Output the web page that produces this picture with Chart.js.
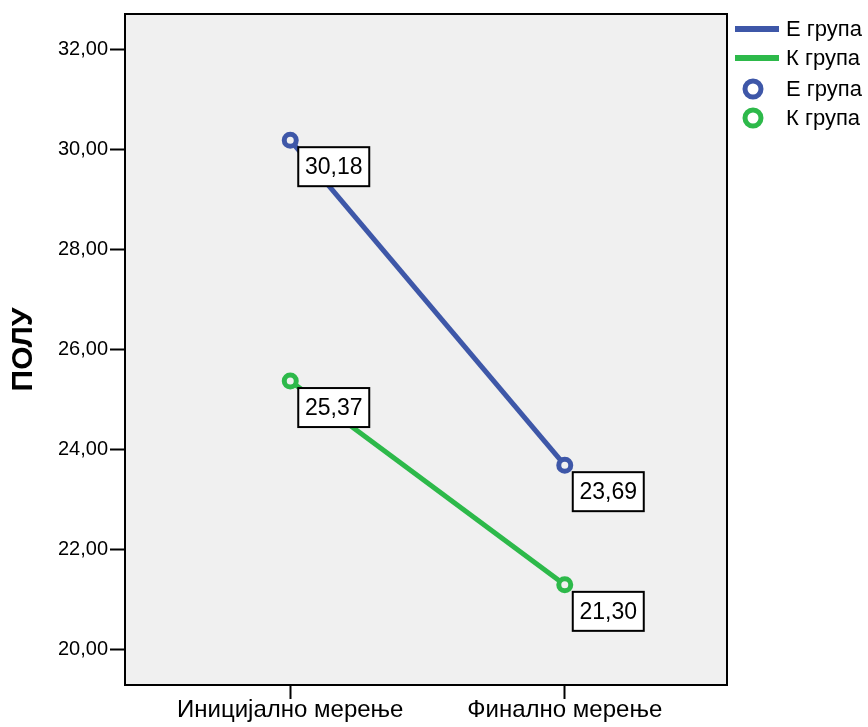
<!DOCTYPE html>
<html lang="sr">
<head>
<meta charset="utf-8">
<title>ПОЛУ</title>
<script src="https://cdn.jsdelivr.net/npm/chart.js"></script>
<style>
  html, body { margin: 0; padding: 0; background: #fff; }
  #wrap { width: 868px; height: 727px; }
</style>
</head>
<body>
<div id="wrap"><canvas id="myChart" width="868" height="727"></canvas></div>
<script>
  // data
  const categories = ['Иницијално мерење', 'Финално мерење']
  const groupNames = ['Е група', 'К група']
  const eGroup = [30.18, 23.69]
  const kGroup = [25.37, 21.30]
  const yTicks = [20, 22, 24, 26, 28, 30, 32]
  const yTitle = 'ПОЛУ'

  const blue = '#3e57a8'
  const green = '#2db94a'
  const bg = '#f0f0f0'
  const font = '"Liberation Sans", Arial, sans-serif'

  const fmt = (v) => v.toFixed(2).replace('.', ',')

  function toPoints(values) {
    return values.map((v, i) => ({ x: i, y: v }))
  }

  // background + frame
  const framePlugin = {
    id: 'frame',
    beforeDraw(chart) {
      const { ctx, chartArea: a } = chart
      ctx.save()
      ctx.fillStyle = bg
      ctx.fillRect(a.left, a.top, a.right - a.left, a.bottom - a.top)
      ctx.restore()
    },
    afterDraw(chart) {
      const { ctx, chartArea: a } = chart
      ctx.save()
      ctx.strokeStyle = '#000'
      ctx.lineWidth = 2
      ctx.strokeRect(a.left, a.top, a.right - a.left, a.bottom - a.top)
      ctx.restore()
    },
  }

  // value boxes next to each point
  const boxPlugin = {
    id: 'boxes',
    afterDatasetsDraw(chart) {
      const ctx = chart.ctx
      ctx.save()
      ctx.font = '23px ' + font
      ctx.textAlign = 'center'
      ctx.textBaseline = 'middle'
      chart.data.datasets.forEach((ds, di) => {
        const meta = chart.getDatasetMeta(di)
        meta.data.forEach((pt, i) => {
          const x = pt.x + 8
          const y = pt.y + 7
          const w = 71, h = 39
          ctx.fillStyle = '#fff'
          ctx.fillRect(x, y, w, h)
          ctx.strokeStyle = '#000'
          ctx.lineWidth = 2
          ctx.strokeRect(x, y, w, h)
          ctx.fillStyle = '#000'
          ctx.fillText(fmt(ds.data[i].y), x + w / 2, y + h / 2 + 1)
        })
      })
      ctx.restore()
    },
  }

  // SPSS-like legend: line entries then marker entries
  const legendPlugin = {
    id: 'sideLegend',
    afterDraw(chart) {
      const ctx = chart.ctx
      const colors = [blue, green]
      ctx.save()
      ctx.font = '22px ' + font
      ctx.textBaseline = 'middle'
      ctx.textAlign = 'left'
      groupNames.forEach((name, i) => {
        const y = 29 + i * 29
        ctx.strokeStyle = colors[i]
        ctx.lineWidth = 6
        ctx.beginPath()
        ctx.moveTo(735, y)
        ctx.lineTo(779, y)
        ctx.stroke()
        ctx.fillStyle = '#000'
        ctx.fillText(name, 786, y + 1)
      })
      groupNames.forEach((name, i) => {
        const y = 89 + i * 29
        ctx.strokeStyle = colors[i]
        ctx.lineWidth = 5
        ctx.beginPath()
        ctx.arc(753, y, 8, 0, Math.PI * 2)
        ctx.stroke()
        ctx.fillStyle = '#000'
        ctx.fillText(name, 786, y + 1)
      })
      ctx.restore()
    },
  }

  const config = {
    type: 'line',
    data: {
      datasets: [
        {
          label: groupNames[0],
          data: toPoints(eGroup),
          borderColor: blue,
          backgroundColor: bg,
          borderWidth: 5,
          pointRadius: 6,
          pointBorderWidth: 5,
          pointBorderColor: blue,
          pointBackgroundColor: bg,
        },
        {
          label: groupNames[1],
          data: toPoints(kGroup),
          borderColor: green,
          backgroundColor: bg,
          borderWidth: 5,
          pointRadius: 6,
          pointBorderWidth: 5,
          pointBorderColor: green,
          pointBackgroundColor: bg,
        },
      ],
    },
    options: {
      responsive: false,
      animation: false,
      layout: { padding: { top: 12, right: 141, left: 0, bottom: 0 } },
      plugins: {
        legend: { display: false },
        tooltip: { enabled: false },
      },
      scales: {
        x: {
          type: 'linear',
          min: -0.602,
          max: 1.591,
          afterBuildTicks(scale) {
            scale.ticks = categories.map((c, i) => ({ value: i }))
          },
          afterFit(scale) {
            scale.height = 42
          },
          grid: {
            drawOnChartArea: false,
            tickLength: 14,
            tickWidth: 2,
            tickColor: '#000',
          },
          border: { display: false },
          ticks: {
            color: '#000',
            padding: -3,
            maxRotation: 0,
            font: { family: font, size: 24 },
            callback: (v) => categories[v],
          },
        },
        y: {
          min: 19.3,
          max: 32.7,
          afterBuildTicks(scale) {
            scale.ticks = yTicks.map((v) => ({ value: v }))
          },
          afterFit(scale) {
            scale.width = 125
          },
          grid: {
            drawOnChartArea: false,
            tickLength: 15,
            tickWidth: 2,
            tickColor: '#000',
          },
          border: { display: false },
          title: {
            display: true,
            text: yTitle,
            color: '#000',
            padding: { top: 6, bottom: 0 },
            font: { family: font, size: 30, weight: 'bold' },
          },
          ticks: {
            color: '#000',
            padding: 2,
            font: { family: font, size: 20 },
            callback: (v) => fmt(v),
          },
        },
      },
    },
    plugins: [framePlugin, boxPlugin, legendPlugin],
  }

  var myChart = new Chart(document.getElementById('myChart'), config)
</script>
</body>
</html>
